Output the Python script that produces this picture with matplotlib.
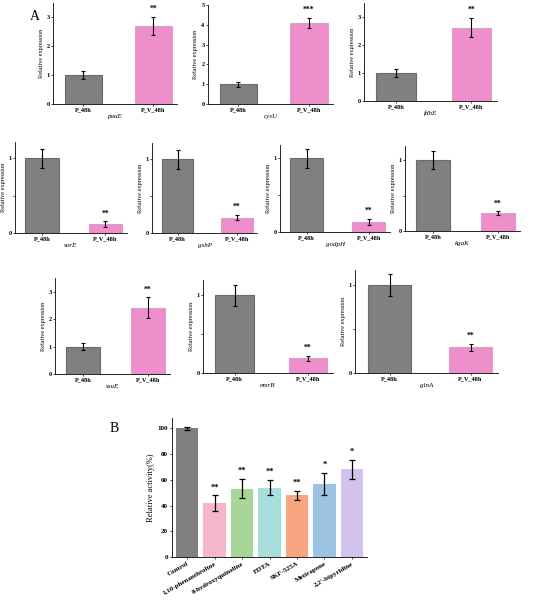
import matplotlib
matplotlib.use("Agg")
import matplotlib.pyplot as plt
import numpy as np

plt.rcParams['font.family'] = ['Liberation Serif', 'DejaVu Serif']
plt.rcParams['font.weight'] = 'bold'

groups = ["P_48h", "P_V_48h"]
genes = ["paaE", "cysU", "fdhE", "sorE", "gshP", "godpH", "kgaK", "ssuE", "omrB", "glnA"]
means = [[1, 2.7], [1, 4.1], [1, 2.62], [1, 0.12], [1, 0.21], [1, 0.14], [1, 0.25],
         [1, 2.42], [1, 0.19], [1, 0.29]]
errs = [[0.13, 0.32], [0.12, 0.25], [0.14, 0.35], [0.13, 0.04], [0.13, 0.04], [0.13, 0.04],
        [0.13, 0.03], [0.13, 0.37], [0.14, 0.03], [0.13, 0.04]]
stars = ["**", "***", "**", "**", "**", "**", "**", "**", "**", "**"]
ylims = [3.5, 5, 3.5, 1.22, 1.22, 1.18, 1.2, 3.5, 1.2, 1.17]
yticks = [[0, 1, 2, 3], [0, 1, 2, 3, 4, 5], [0, 1, 2, 3], [0, 0.5, 1], [0, 0.5, 1], [0, 0.5, 1],
          [0, 0.5, 1], [0, 1, 2, 3], [0, 0.5, 1], [0, 0.5, 1]]
# pixel boxes: left, top, right, bottom
boxes = [(53, 3, 177, 104), (208, 5, 333, 104), (364, 3, 497, 101),
         (15, 142, 127, 233), (152, 143, 257, 233), (280, 145, 390, 232), (405, 146, 520, 231),
         (55, 278, 170, 374), (203, 280, 333, 373), (355, 270, 498, 373)]

comp = ["Control", "1,10-phenanthroline", "8-hydroxyquinoline", "EDTA", "SKF-525A", "Metirapone", "2,2'-bipyridine"]
act = [100, 42, 53, 54, 48, 57, 68]
act_err = [1, 6, 7.5, 6, 3.5, 8.5, 7.5]
act_stars = ["", "**", "**", "**", "**", "*", "*"]
bcolors = ["#808080", "#F4B6C8", "#A8D59A", "#A8DEDE", "#F8A582", "#9DC3E2", "#D2C3EC"]

W, H = 535, 602
fig = plt.figure(figsize=(W / 100, H / 100), dpi=100)

def ax_at(l, t, r, b):
    return fig.add_axes([l / W, 1 - b / H, (r - l) / W, (b - t) / H])

for i, g in enumerate(genes):
    ax = ax_at(*boxes[i])
    x = np.arange(2)
    ax.bar(x, means[i], width=0.53, color=["#808080", "#EE8ECB"],
           edgecolor=["#6a6a6a", "#d9a0c8"], linewidth=0.8)
    ax.errorbar(x, means[i], yerr=errs[i], fmt='none', ecolor='black', elinewidth=0.8, capsize=1.5, capthick=0.8)
    ax.text(1, means[i][1] + errs[i][1] + ylims[i] * 0.04, stars[i], ha='center', va='bottom', fontsize=5.5)
    ax.set_xlim(-0.43, 1.34)
    ax.set_ylim(0, ylims[i])
    ax.set_yticks(yticks[i])
    ax.set_yticklabels([("%g" % v) if v in (0, 1, 2, 3, 4, 5) else "" for v in yticks[i]])
    ax.set_xticks(x)
    ax.set_xticklabels(groups)
    ax.tick_params(labelsize=4.5, length=1.5, width=0.5, pad=1)
    ax.set_ylabel("Relative expression", fontsize=4.5, labelpad=2)
    ax.set_xlabel(g, fontsize=5, style='italic', labelpad=1)
    for s in ['top', 'right']:
        ax.spines[s].set_visible(False)
    for s in ['left', 'bottom']:
        ax.spines[s].set_linewidth(0.6)

fig.text(30 / W, 1 - 20 / H, "A", fontsize=10, weight='normal')

axb = ax_at(172, 418, 367, 557)
xb = np.arange(len(comp))
axb.bar(xb, act, width=0.82, color=bcolors)
axb.errorbar(xb, act, yerr=act_err, fmt='none', ecolor='black', elinewidth=0.9, capsize=2, capthick=0.9)
for i in range(len(comp)):
    if act_stars[i]:
        axb.text(i, act[i] + act_err[i] + 3, act_stars[i], ha='center', va='bottom', fontsize=6)
axb.set_xlim(-0.55, 6.55)
axb.set_ylim(0, 108)
axb.set_yticks([0, 20, 40, 60, 80, 100])
axb.set_xticks(xb)
axb.set_xticklabels(comp, rotation=30, ha='right', rotation_mode='anchor')
axb.tick_params(labelsize=5, length=1.5, width=0.5, pad=1.5)
axb.set_ylabel("Relative activity(%)", fontsize=6, labelpad=2)
for s in ['top', 'right']:
    axb.spines[s].set_visible(False)
for s in ['left', 'bottom']:
    axb.spines[s].set_linewidth(0.6)
fig.text(110 / W, 1 - 432 / H, "B", fontsize=10, weight='normal')

fig.savefig("out.png", dpi=100)
